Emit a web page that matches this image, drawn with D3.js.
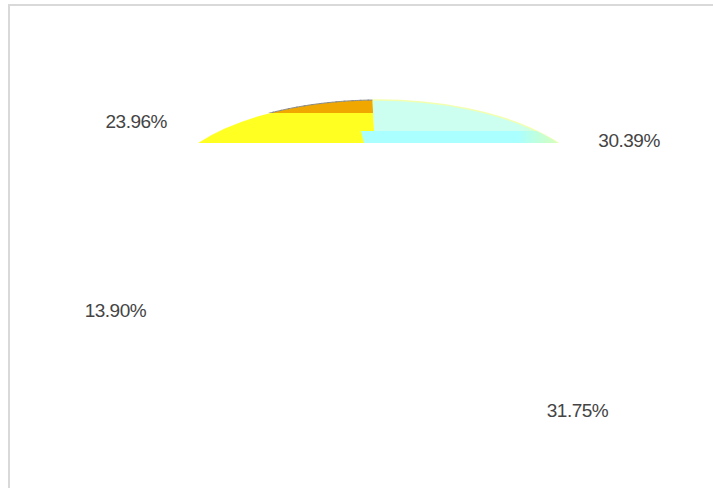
<!DOCTYPE html>
<html>
<head>
<meta charset="utf-8">
<script src="https://cdn.jsdelivr.net/npm/d3@7/dist/d3.min.js"></script>
<style>
    body { margin: 0; background: #fff; }
    svg { display: block; }
</style>
</head>
<body>
<script>
// Share of each slice, clockwise from the top
const sliceNames = ["B", "C", "D", "A"];
const sliceValues = [30.39, 31.75, 13.90, 23.96];
const sliceLabels = ["30.39%", "31.75%", "13.90%", "23.96%"];

const sliceColors = ["#ccfff0", "#aaffff", "#ccff99", "#ffff22"];
const shadeColors = ["#aaffff", "#88e6e6", "#aadd77", "#f0a800"];

const width = 713, height = 488;

const svg = d3.select("body").append("svg")
    .attr("width", width)
    .attr("height", height);

// frame (runs off the right and bottom edge)
svg.append("rect")
    .attr("x", 9).attr("y", 5)
    .attr("width", width + 20).attr("height", height + 20)
    .attr("fill", "none")
    .attr("stroke", "#d9d9d9")
    .attr("stroke-width", 2);

// pie geometry: flattened ellipse, only its top cap is drawn
const cx = 378, cy = 199, rx = 218, ry = 99;
const capBottom = 143, topBand = 113, lowBand = 131;
const tilt = -1.5 * Math.PI / 180;

const pie = d3.pie()
    .sort(null)
    .value(d => d)
    .startAngle(tilt)
    .endAngle(2 * Math.PI + tilt);

const arcs = pie(sliceValues);
const arc = d3.arc().innerRadius(0).outerRadius(rx);
const rim = d3.arc().innerRadius(rx).outerRadius(rx);

const defs = svg.append("defs");

function clipRect(id, y0, y1) {
    defs.append("clipPath").attr("id", id)
        .append("rect")
        .attr("x", 0).attr("y", y0)
        .attr("width", width).attr("height", y1 - y0);
}
clipRect("capClip", 0, capBottom);
clipRect("topClip", 0, topBand);
clipRect("lowClip", lowBand, capBottom);

// right tip fades to pale green
function tipGradient(id, from) {
    const g = defs.append("linearGradient").attr("id", id)
        .attr("gradientUnits", "userSpaceOnUse")
        .attr("x1", 140).attr("x2", 182).attr("y1", 0).attr("y2", 0);
    g.append("stop").attr("offset", 0).attr("stop-color", from);
    g.append("stop").attr("offset", 1).attr("stop-color", "#d8ffb8");
}
tipGradient("tipTop", sliceColors[0]);
tipGradient("tipLow", shadeColors[0]);

function layer(clipId) {
    return svg.append("g")
        .attr("clip-path", `url(#${clipId})`)
        .append("g")
        .attr("transform", `translate(${cx},${cy}) scale(1,${ry / rx})`);
}

// slice faces
const faces = layer("capClip");
faces.selectAll("path.slice")
    .data(arcs)
    .enter()
    .append("path")
    .attr("class", "slice")
    .attr("d", arc)
    .attr("fill", (d, i) => i === 0 ? "url(#tipTop)" : sliceColors[i]);

// light rim on the right slice
faces.append("path")
    .attr("d", rim(arcs[0]))
    .attr("fill", "none")
    .attr("stroke", "#f2ffb0")
    .attr("stroke-width", 1.5)
    .attr("vector-effect", "non-scaling-stroke");

// darker band along the top of the left slice
const topLayer = layer("topClip");
const last = arcs.length - 1;
topLayer.append("path")
    .attr("d", arc(arcs[last]))
    .attr("fill", shadeColors[last]);
topLayer.append("path")
    .attr("d", rim(arcs[last]))
    .attr("fill", "none")
    .attr("stroke", "#8c8c8c")
    .attr("stroke-width", 1)
    .attr("stroke-dasharray", "5,3")
    .attr("vector-effect", "non-scaling-stroke");

// lower strip of the right slice, slightly shifted
const lowLayer = layer("lowClip");
const shift = 5 * Math.PI / 180;
lowLayer.append("path")
    .attr("d", arc({ startAngle: arcs[0].startAngle - shift, endAngle: arcs[0].endAngle }))
    .attr("fill", "url(#tipLow)");

// percentage labels: pushed out sideways from the slice middle
const lrx = 95, lpad = 175, lry = 172, lcy = 244;
const mid = d => (d.startAngle + d.endAngle) / 2;
svg.selectAll("text.label")
    .data(arcs)
    .enter()
    .append("text")
    .attr("class", "label")
    .attr("x", d => {
        const s = Math.sin(mid(d));
        return cx + lrx * s + Math.sign(s) * lpad;
    })
    .attr("y", d => lcy - lry * Math.cos(mid(d)))
    .attr("text-anchor", "middle")
    .attr("dominant-baseline", "central")
    .attr("font-family", "Liberation Sans, Arial, sans-serif")
    .attr("font-size", 19)
    .attr("letter-spacing", -0.5)
    .attr("fill", "#444")
    .text((d, i) => sliceLabels[i]);
</script>
</body>
</html>
